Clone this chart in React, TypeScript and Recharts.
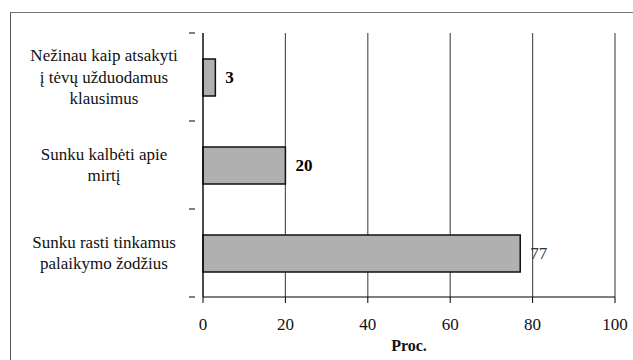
import React from 'react';
import { BarChart, Bar, XAxis, YAxis, CartesianGrid, LabelList } from 'recharts';

const categories = [
  'Nežinau kaip atsakyti\nį tėvų užduodamus\nklausimus',
  'Sunku kalbėti apie\nmirtį',
  'Sunku rasti tinkamus\npalaikymo žodžius',
];
const values = [3, 20, 77];
const xTicks = [0, 20, 40, 60, 80, 100];
const xTitle = 'Proc.';

const data = categories.map((name, i) => ({ name, value: values[i] }));

const W = 633;
const H = 360;
const margin = { top: 33, right: 18, bottom: 13, left: 0 };
const xAxisHeight = 50;
const plotHeight = H - margin.top - margin.bottom - xAxisHeight;
const halfBand = plotHeight / categories.length / 2;
const FONT = 'Liberation Serif';

// multi-line category label + the boundary tick mark below it
const CategoryTick = ({ x, y, payload, index }: any) => {
  const lines = String(payload.value).split('\n');
  const lh = 21.5;
  const startY = y - ((lines.length - 1) * lh) / 2;
  return (
    <g>
      {lines.map((l, i) => (
        <text key={i} x={104} y={startY + i * lh} textAnchor="middle" dominantBaseline="central"
          fontFamily={FONT} fontSize={17} fill="#111">
          {l}
        </text>
      ))}
      <line x1={x - 6} x2={x} y1={y + halfBand} y2={y + halfBand} stroke="#000" />
      {index === 0 && (
        <line x1={x - 6} x2={x} y1={y - halfBand} y2={y - halfBand} stroke="#000" />
      )}
    </g>
  );
};

const NumberTick = ({ x, y, payload, index }: any) => (
  <g>
    <text x={x} y={y + 19} textAnchor="middle" dominantBaseline="central"
      fontFamily={FONT} fontSize={17} fill="#111">
      {payload.value}
    </text>
    {index === 0 && (
      <text x={203 + (W - 203 - margin.right) / 2} y={y + 40}
        textAnchor="middle" dominantBaseline="central"
        fontFamily={FONT} fontSize={16} fontWeight="bold" fill="#111">
        {xTitle}
      </text>
    )}
  </g>
);

const ValueLabel = ({ x, y, width, height, value, index }: any) => (
  <text x={x + width + 10} y={y + height / 2} dominantBaseline="central"
    fontFamily={FONT} fontSize={17}
    fontWeight={index === 2 ? 'normal' : 'bold'}
    fill={index === 2 ? '#333' : '#000'}>
    {value}
  </text>
);

export default function App() {
  return (
    <div style={{ position: 'absolute', left: 0, top: 0, width: W, height: H, background: '#fff', fontFamily: FONT }}>
      <div style={{
        position: 'absolute', left: 10, top: 12, width: W - 10, height: H - 12,
        borderLeft: '1.5px solid #555', borderTop: '1.5px solid #777', boxSizing: 'border-box',
      }} />
      <BarChart width={W} height={H} data={data} layout="vertical" margin={margin}
        style={{ position: 'absolute', left: 0, top: 0 }}>
        <CartesianGrid horizontal={false} stroke="#555" strokeWidth={1.2} />
        <XAxis type="number" domain={[0, 100]} ticks={xTicks} interval={0}
          height={xAxisHeight} axisLine={{ stroke: '#000' }} tickLine={{ stroke: '#000' }}
          tickSize={6} tick={<NumberTick />} />
        <YAxis type="category" dataKey="name" width={203} axisLine={{ stroke: '#000' }}
          tickLine={false} tick={<CategoryTick />} interval={0} />
        <Bar dataKey="value" fill="#b0b0b0" stroke="#111" strokeWidth={1.5} barSize={37}
          isAnimationActive={false}>
          <LabelList dataKey="value" content={<ValueLabel />} />
        </Bar>
      </BarChart>
    </div>
  );
}
